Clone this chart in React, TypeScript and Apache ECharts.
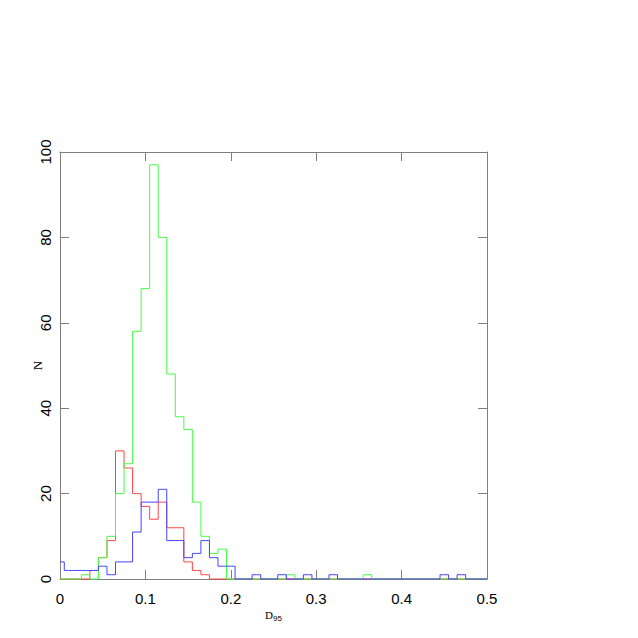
import React, { useEffect, useRef } from "react";
import * as echarts from "echarts";

const binCenters = [
  0.0, 0.01, 0.02, 0.03, 0.04, 0.05, 0.06, 0.07, 0.08, 0.09,
  0.1, 0.11, 0.12, 0.13, 0.14, 0.15, 0.16, 0.17, 0.18, 0.19,
  0.2, 0.21, 0.22, 0.23, 0.24, 0.25, 0.26, 0.27, 0.28, 0.29,
  0.3, 0.31, 0.32, 0.33, 0.34, 0.35, 0.36, 0.37, 0.38, 0.39,
  0.4, 0.41, 0.42, 0.43, 0.44, 0.45, 0.46, 0.47, 0.48, 0.49,
];
const histEnd = 0.5;

const redCounts = [
  0, 0, 0, 0, 2, 5, 9, 30, 26, 20,
  17, 14, 18, 12, 12, 4, 2, 1, 0, 0,
  0, 0, 0, 0, 0, 0, 0, 0, 0, 0,
  0, 0, 0, 0, 0, 0, 0, 0, 0, 0,
  0, 0, 0, 0, 0, 0, 0, 0, 0, 0,
];
const greenCounts = [
  0, 0, 0, 1, 0, 5, 10, 20, 27, 58,
  68, 97, 80, 48, 38, 35, 18, 10, 6, 7,
  0, 0, 0, 0, 0, 0, 0, 1, 0, 0,
  0, 0, 0, 0, 0, 0, 1, 0, 0, 0,
  0, 0, 0, 0, 0, 0, 0, 0, 0, 0,
];
const blueCounts = [
  4, 2, 2, 2, 2, 3, 1, 4, 4, 11,
  18, 18, 21, 9, 9, 5, 6, 9, 5, 3,
  3, 0, 0, 1, 0, 0, 1, 0, 0, 1,
  0, 0, 1, 0, 0, 0, 0, 0, 0, 0,
  0, 0, 0, 0, 0, 1, 0, 1, 0, 0,
];

const xTicks = [0, 0.1, 0.2, 0.3, 0.4, 0.5];
const yTicks = [0, 20, 40, 60, 80, 100];

const AXIS_COLOR = "#7f7f7f";

function stepData(counts: number[]) {
  const d = binCenters.map((c, i) => [c, counts[i]]);
  d.push([histEnd, 0]);
  return d;
}

export default function App() {
  const ref = useRef<HTMLDivElement>(null);
  useEffect(() => {
    if (!ref.current) return;
    const chart = echarts.init(ref.current, undefined, { renderer: "svg" });
    const xMin = xTicks[0];
    const xMax = xTicks[xTicks.length - 1];
    const xInt = xTicks[1] - xTicks[0];
    const yMin = yTicks[0];
    const yMax = yTicks[yTicks.length - 1];
    const yInt = yTicks[1] - yTicks[0];
    const tick = { show: true, inside: true, length: 9, lineStyle: { color: AXIS_COLOR, width: 1 } };
    const axisLine = { show: true, onZero: false, lineStyle: { color: AXIS_COLOR, width: 1 } };
    const series = [
      { name: "red", data: stepData(redCounts), color: "#ff4444" },
      { name: "green", data: stepData(greenCounts), color: "#44ff44" },
      { name: "blue", data: stepData(blueCounts), color: "#4444ff" },
    ].map((s) => ({
      type: "line" as const,
      name: s.name,
      step: "middle" as const,
      data: s.data,
      showSymbol: false,
      symbol: "none",
      clip: false,
      lineStyle: { color: s.color, width: 1 },
      itemStyle: { color: s.color },
      xAxisIndex: 0,
      yAxisIndex: 0,
    }));
    chart.setOption({
      animation: false,
      backgroundColor: "#ffffff",
      grid: { left: 60, top: 152, width: 427, height: 427, containLabel: false },
      xAxis: [
        {
          type: "value",
          min: xMin,
          max: xMax,
          interval: xInt,
          position: "bottom",
          axisLine,
          axisTick: tick,
          splitLine: { show: false },
          axisLabel: {
            show: true,
            margin: 12,
            color: "#000",
            fontFamily: "Liberation Sans",
            fontSize: 15,
            formatter: (v: number) => (v === 0 ? "0" : v.toFixed(1)),
          },
          name: "{d|D}{s|95}",
          nameLocation: "middle",
          nameGap: 28,
          nameMoveOverlap: false,
          nameTextStyle: {
            rich: {
              d: { fontFamily: "Liberation Serif", fontSize: 11, color: "#000" },
              s: { fontFamily: "Liberation Sans", fontSize: 8, color: "#000", padding: [7, 0, 0, 0] },
            },
          },
        },
        {
          type: "value",
          min: xMin,
          max: xMax,
          interval: xInt,
          position: "top",
          axisLine,
          axisTick: tick,
          splitLine: { show: false },
          axisLabel: { show: false },
        },
      ],
      yAxis: [
        {
          type: "value",
          min: yMin,
          max: yMax,
          interval: yInt,
          position: "left",
          axisLine,
          axisTick: tick,
          splitLine: { show: false },
          axisLabel: {
            show: true,
            rotate: 90,
            margin: 7,
            verticalAlign: "bottom",
            align: "center",
            color: "#000",
            fontFamily: "Liberation Sans",
            fontSize: 15,
          },
          name: "N",
          nameLocation: "middle",
          nameRotate: 90,
          nameGap: 16,
          nameMoveOverlap: false,
          nameTextStyle: { fontFamily: "Liberation Serif", fontSize: 13, color: "#000" },
        },
        {
          type: "value",
          min: yMin,
          max: yMax,
          interval: yInt,
          position: "right",
          axisLine,
          axisTick: tick,
          splitLine: { show: false },
          axisLabel: { show: false },
        },
      ],
      series,
    });
    return () => chart.dispose();
  }, []);
  return (
    <div
      ref={ref}
      style={{ position: "fixed", left: 0, top: 0, width: 638, height: 638, background: "#fff" }}
    />
  );
}
